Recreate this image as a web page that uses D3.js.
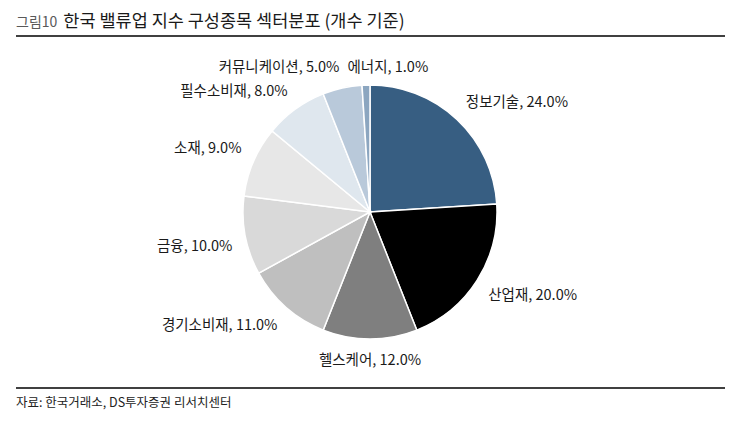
<!DOCTYPE html>
<html>
<head>
<meta charset="utf-8">
<script src="https://cdn.jsdelivr.net/npm/d3@7"></script>
<style>
  body { margin: 0; background: #fff; }
  svg text { font-family: "Noto Sans CJK KR", "Noto Sans", sans-serif; }
</style>
</head>
<body>
<svg id="chart" width="741" height="426"></svg>
<script>
// sector shares, clockwise from 12 o'clock
const sectors = ["정보기술", "산업재", "헬스케어", "경기소비재", "금융", "소재", "필수소비재", "커뮤니케이션", "에너지"];
const shares = [24.0, 20.0, 12.0, 11.0, 10.0, 9.0, 8.0, 5.0, 1.0];
const sliceColors = ["#375e82", "#000000", "#7f7f7f", "#bfbfbf", "#d9d9d9", "#e7e7e7", "#dfe7ee", "#b9c9da", "#8ca6c0"];

const svg = d3.select("#chart");
const cx = 370, cy = 212, radius = 127;

// title
const title = svg.append("text").attr("x", 16).attr("y", 27);
title.append("tspan").attr("font-size", 14).attr("fill", "#595959").text("그림10");
title.append("tspan").attr("dx", 6).attr("font-size", 17.5).attr("fill", "#1a1a1a").text("한국 밸류업 지수 구성종목 섹터분포 (개수 기준)");

svg.append("line").attr("x1", 16).attr("x2", 725).attr("y1", 36).attr("y2", 36)
  .attr("stroke", "#000").attr("stroke-width", 1.5);
svg.append("line").attr("x1", 16).attr("x2", 725).attr("y1", 388).attr("y2", 388)
  .attr("stroke", "#000").attr("stroke-width", 1.5);

svg.append("text").attr("x", 16).attr("y", 407).attr("font-size", 12.5).attr("fill", "#222")
  .text("자료: 한국거래소, DS투자증권 리서치센터");

// pie
const data = sectors.map((s, i) => ({ name: s, value: shares[i], color: sliceColors[i] }));
const pie = d3.pie().value(d => d.value).sort(null);
const arc = d3.arc().innerRadius(0).outerRadius(radius);
const arcs = pie(data);

const g = svg.append("g").attr("transform", "translate(" + cx + "," + cy + ")");
g.selectAll("path.slice")
  .data(arcs)
  .enter()
  .append("path")
  .attr("class", "slice")
  .attr("d", arc)
  .attr("fill", d => d.data.color)
  .attr("stroke", "#fff")
  .attr("stroke-width", 1.5);

// labels: box corner nearest the centre touches a circle just outside the pie
const labelR = radius + 13;
const labels = g.selectAll("text.lbl")
  .data(arcs)
  .enter()
  .append("text")
  .attr("class", "lbl")
  .attr("font-size", 14.5)
  .attr("fill", "#1a1a1a")
  .text(d => d.data.name + ", " + d.data.value.toFixed(1) + "%");

const boxes = [];
labels.each(function(d, i) {
  const w = this.getComputedTextLength();
  const h = 16;
  const a = (d.startAngle + d.endAngle) / 2;
  const s = Math.sin(a), c = Math.cos(a);
  const px = labelR * s, py = -labelR * c;
  let bx = Math.abs(s) < 0.05 ? 0 : (s > 0 ? w / 2 : -w / 2);
  let by = Math.abs(c) < 0.05 ? 0 : (c > 0 ? -h / 2 : h / 2);
  let x = px + bx, y = py + by;
  // push right if it runs into the previous label
  const prev = boxes[i - 1];
  if (prev && Math.abs(prev.y - y) < h && x - w / 2 < prev.x + prev.w / 2 + 8) {
    x = prev.x + prev.w / 2 + 8 + w / 2;
    y = prev.y;
  }
  boxes.push({ x: x, y: y, w: w });
  d3.select(this)
    .attr("text-anchor", "middle")
    .attr("x", x)
    .attr("y", y + 5);
});
</script>
</body>
</html>
